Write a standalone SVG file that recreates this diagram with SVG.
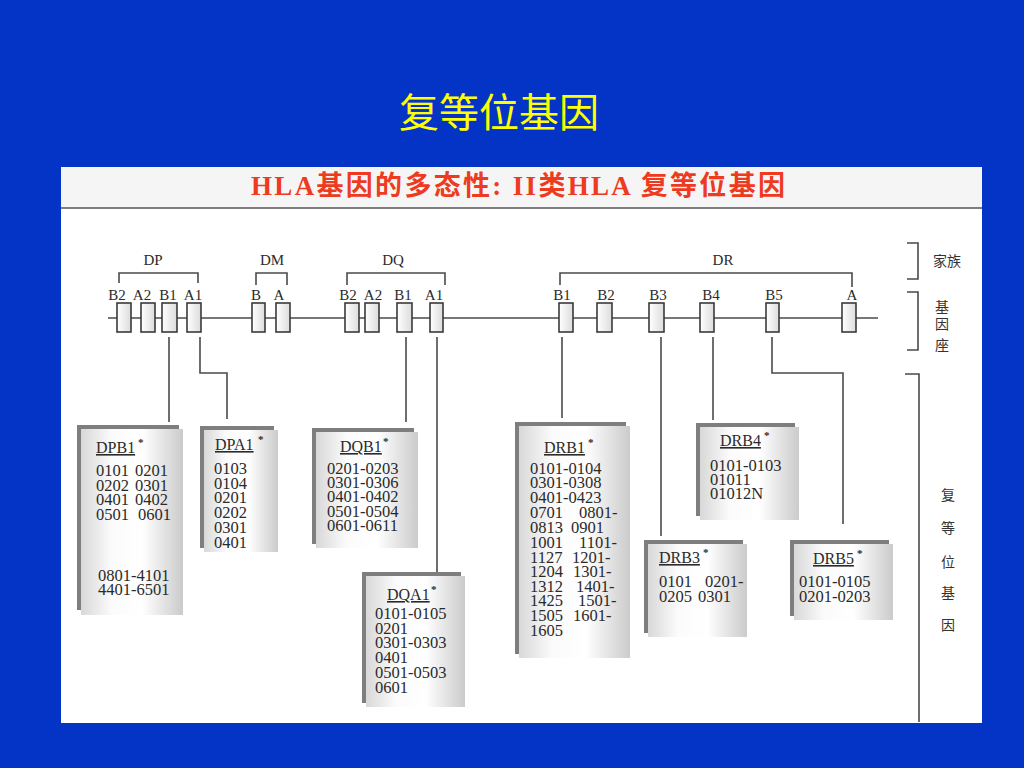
<svg xmlns="http://www.w3.org/2000/svg" width="1024" height="768" viewBox="0 0 1024 768">
<defs>
<linearGradient id="pg" x1="0" y1="0" x2="1" y2="0">
<stop offset="0" stop-color="#d8d8d8"/>
<stop offset="0.3" stop-color="#fbfbfb"/>
<stop offset="0.6" stop-color="#ffffff"/>
<stop offset="1" stop-color="#cbcbcb"/>
</linearGradient>
<linearGradient id="gb" x1="0" y1="0" x2="1" y2="0">
<stop offset="0" stop-color="#ffffff"/>
<stop offset="1" stop-color="#dcdcdc"/>
</linearGradient>
<style>
.ser{font-family:"Liberation Serif","Noto Sans CJK SC",serif;fill:#2a2a2a}
.lbl{font-size:15px;text-anchor:middle}
.dat{font-size:16.5px}
.ttl{font-size:16px;text-decoration:underline}
.star{font-size:11px;font-weight:bold}
.cn{font-family:"Noto Sans CJK SC",sans-serif;fill:#333;font-size:14px;text-anchor:middle}
.ln{fill:none;stroke:#4a4a4a;stroke-width:1.6}
.gene{fill:url(#gb);stroke:#3a3a3a;stroke-width:1.6}
.back{fill:#7e7e7e}
.front{fill:url(#pg)}
</style>
</defs>
<rect x="0" y="0" width="1024" height="768" fill="#0434c6"/>
<text x="499" y="127" font-family="'Noto Sans CJK SC',sans-serif" font-size="40" fill="#ffff00" text-anchor="middle">复等位基因</text>
<rect x="61" y="167" width="921" height="556" fill="#ffffff"/>
<rect x="61" y="167" width="921" height="41" fill="#f5f5f5"/>
<line x1="61" y1="208" x2="982" y2="208" stroke="#555" stroke-width="1.6"/>
<text x="251" y="195" font-family="'Liberation Serif','Noto Sans CJK SC',serif" font-weight="bold" font-size="27" fill="#ee3a1e" textLength="534" lengthAdjust="spacing">HLA基因的多态性: II类HLA 复等位基因</text>

<g id="connectors">
<line class="ln" x1="108" y1="318" x2="878" y2="318"/>
<path class="ln" d="M119 283V273H198V283"/>
<path class="ln" d="M256 285V273H287V285"/>
<path class="ln" d="M347 285V273H445V285"/>
<path class="ln" d="M560 285V273H852V287"/>
<path class="ln" d="M907 243H918V279H907"/>
<path class="ln" d="M907 292H918V350H907"/>
<path class="ln" d="M905 374H919V722"/>
<path class="ln" d="M169 337V422"/>
<path class="ln" d="M200 337V373H227V419"/>
<path class="ln" d="M406 337V422"/>
<path class="ln" d="M437 337V573"/>
<path class="ln" d="M562 337V418"/>
<path class="ln" d="M661 337V536"/>
<path class="ln" d="M713 337V420"/>
<path class="ln" d="M772 337V373H843V524"/>
</g>

<g id="families" class="ser lbl">
<text x="153" y="265">DP</text>
<text x="272" y="265">DM</text>
<text x="393" y="265">DQ</text>
<text x="723" y="265">DR</text>
</g>

<g id="loci">
<g id="DPB2"><rect class="gene" x="117" y="303" width="14" height="29"/><text class="ser lbl" x="117" y="300">B2</text></g>
<g id="DPA2"><rect class="gene" x="141" y="303" width="14" height="29"/><text class="ser lbl" x="142" y="300">A2</text></g>
<g id="DPB1"><rect class="gene" x="162" y="303" width="15" height="29"/><text class="ser lbl" x="168" y="300">B1</text></g>
<g id="DPA1"><rect class="gene" x="187" y="303" width="14" height="29"/><text class="ser lbl" x="193" y="300">A1</text></g>
<g id="DMB"><rect class="gene" x="252" y="303" width="13" height="29"/><text class="ser lbl" x="256" y="300">B</text></g>
<g id="DMA"><rect class="gene" x="276" y="303" width="14" height="29"/><text class="ser lbl" x="279" y="300">A</text></g>
<g id="DQB2"><rect class="gene" x="345" y="303" width="14" height="29"/><text class="ser lbl" x="348" y="300">B2</text></g>
<g id="DQA2"><rect class="gene" x="365" y="303" width="14" height="29"/><text class="ser lbl" x="373" y="300">A2</text></g>
<g id="DQB1"><rect class="gene" x="397" y="303" width="15" height="29"/><text class="ser lbl" x="403" y="300">B1</text></g>
<g id="DQA1"><rect class="gene" x="430" y="303" width="13" height="29"/><text class="ser lbl" x="434" y="300">A1</text></g>
<g id="DRB1"><rect class="gene" x="559" y="303" width="14" height="29"/><text class="ser lbl" x="562" y="300">B1</text></g>
<g id="DRB2"><rect class="gene" x="597" y="303" width="15" height="29"/><text class="ser lbl" x="606" y="300">B2</text></g>
<g id="DRB3"><rect class="gene" x="649" y="303" width="15" height="29"/><text class="ser lbl" x="658" y="300">B3</text></g>
<g id="DRB4"><rect class="gene" x="700" y="303" width="14" height="29"/><text class="ser lbl" x="711" y="300">B4</text></g>
<g id="DRB5"><rect class="gene" x="766" y="303" width="13" height="29"/><text class="ser lbl" x="774" y="300">B5</text></g>
<g id="DRA"><rect class="gene" x="842" y="303" width="14" height="29"/><text class="ser lbl" x="852" y="300">A</text></g>
</g>

<g id="legend">
<text class="cn" x="947" y="266" font-size="15">家族</text>
<text class="cn" x="942" y="312">基</text>
<text class="cn" x="942" y="329">因</text>
<text class="cn" x="942" y="350">座</text>
<text class="cn" x="948" y="500">复</text>
<text class="cn" x="948" y="533">等</text>
<text class="cn" x="948" y="567">位</text>
<text class="cn" x="948" y="598">基</text>
<text class="cn" x="948" y="630">因</text>
</g>

<g id="box-DPB1">
<rect class="back" x="77" y="425" width="102" height="185"/>
<rect class="front" x="81" y="429" width="102" height="186"/>
<text class="ser ttl" x="96" y="453">DPB1</text><text class="ser star" x="138" y="446">*</text>
<text class="ser dat"><tspan x="96" y="476">0101</tspan><tspan x="135" y="476">0201</tspan><tspan x="96" y="491">0202</tspan><tspan x="135" y="491">0301</tspan><tspan x="96" y="505">0401</tspan><tspan x="135" y="505">0402</tspan><tspan x="96" y="520">0501</tspan><tspan x="138" y="520">0601</tspan><tspan x="98" y="581">0801-4101</tspan><tspan x="98" y="595">4401-6501</tspan></text>
</g>

<g id="box-DPA1">
<rect class="back" x="200" y="426" width="74" height="122"/>
<rect class="front" x="204" y="430" width="74" height="122"/>
<text class="ser ttl" x="215" y="450">DPA1</text><text class="ser star" x="258" y="443">*</text>
<text class="ser dat"><tspan x="214" y="474">0103</tspan><tspan x="214" y="489">0104</tspan><tspan x="214" y="503">0201</tspan><tspan x="214" y="518">0202</tspan><tspan x="214" y="533">0301</tspan><tspan x="214" y="548">0401</tspan></text>
</g>

<g id="box-DQB1">
<rect class="back" x="312" y="428" width="102" height="116"/>
<rect class="front" x="316" y="432" width="102" height="116"/>
<text class="ser ttl" x="340" y="452">DQB1</text><text class="ser star" x="383" y="445">*</text>
<text class="ser dat"><tspan x="327" y="474">0201-0203</tspan><tspan x="327" y="488">0301-0306</tspan><tspan x="327" y="502">0401-0402</tspan><tspan x="327" y="517">0501-0504</tspan><tspan x="327" y="531">0601-0611</tspan></text>
</g>

<g id="box-DQA1">
<rect class="back" x="362" y="572" width="99" height="131"/>
<rect class="front" x="366" y="576" width="99" height="131"/>
<text class="ser ttl" x="387" y="600">DQA1</text><text class="ser star" x="431" y="593">*</text>
<text class="ser dat"><tspan x="375" y="619">0101-0105</tspan><tspan x="375" y="634">0201</tspan><tspan x="375" y="648">0301-0303</tspan><tspan x="375" y="663">0401</tspan><tspan x="375" y="678">0501-0503</tspan><tspan x="375" y="693">0601</tspan></text>
</g>

<g id="box-DRB1">
<rect class="back" x="515" y="422" width="111" height="232"/>
<rect class="front" x="519" y="426" width="111" height="232"/>
<text class="ser ttl" x="544" y="453">DRB1</text><text class="ser star" x="588" y="446">*</text>
<text class="ser dat"><tspan x="530" y="474">0101-0104</tspan><tspan x="530" y="488">0301-0308</tspan><tspan x="530" y="503">0401-0423</tspan><tspan x="530" y="518">0701</tspan><tspan x="579" y="518">0801-</tspan><tspan x="530" y="533">0813</tspan><tspan x="571" y="533">0901</tspan><tspan x="530" y="548">1001</tspan><tspan x="579" y="548">1101-</tspan><tspan x="530" y="563">1127</tspan><tspan x="572" y="563">1201-</tspan><tspan x="530" y="577">1204</tspan><tspan x="573" y="577">1301-</tspan><tspan x="530" y="592">1312</tspan><tspan x="576" y="592">1401-</tspan><tspan x="530" y="606">1425</tspan><tspan x="578" y="606">1501-</tspan><tspan x="530" y="621">1505</tspan><tspan x="573" y="621">1601-</tspan><tspan x="530" y="636">1605</tspan></text>
</g>

<g id="box-DRB3">
<rect class="back" x="644" y="540" width="99" height="93"/>
<rect class="front" x="648" y="544" width="99" height="93"/>
<text class="ser ttl" x="659" y="563">DRB3</text><text class="ser star" x="703" y="556">*</text>
<text class="ser dat"><tspan x="659" y="587">0101</tspan><tspan x="705" y="587">0201-</tspan><tspan x="659" y="602">0205</tspan><tspan x="698" y="602">0301</tspan></text>
</g>

<g id="box-DRB4">
<rect class="back" x="696" y="423" width="99" height="93"/>
<rect class="front" x="700" y="427" width="99" height="93"/>
<text class="ser ttl" x="720" y="446">DRB4</text><text class="ser star" x="764" y="439">*</text>
<text class="ser dat"><tspan x="710" y="471">0101-0103</tspan><tspan x="710" y="485">01011</tspan><tspan x="710" y="499">01012N</tspan></text>
</g>

<g id="box-DRB5">
<rect class="back" x="790" y="540" width="99" height="76"/>
<rect class="front" x="794" y="544" width="99" height="76"/>
<text class="ser ttl" x="813" y="564">DRB5</text><text class="ser star" x="857" y="557">*</text>
<text class="ser dat"><tspan x="799" y="587">0101-0105</tspan><tspan x="799" y="602">0201-0203</tspan></text>
</g>
</svg>
